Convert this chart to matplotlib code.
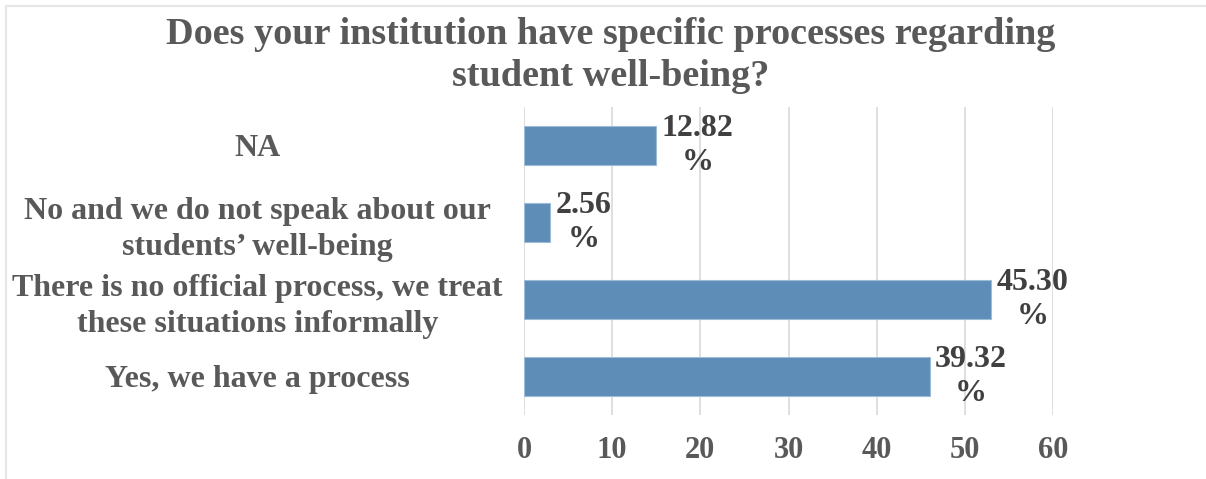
import matplotlib.pyplot as plt
from matplotlib.lines import Line2D

plt.rcParams['font.family'] = ['Liberation Serif', 'DejaVu Serif']
plt.rcParams['font.weight'] = 'bold'

categories = ["Yes, we have a process",
              "There is no official process, we treat\nthese situations informally",
              "No and we do not speak about our\nstudents\u2019 well-being",
              "NA"]
counts = [46, 53, 3, 15]
percents = ["39.32", "45.30", "2.56", "12.82"]
xticks = [0, 10, 20, 30, 40, 50, 60]

fig = plt.figure(figsize=(12.06, 4.79), dpi=100)
ax = fig.add_axes([524 / 1206, 1 - 415 / 479, 529 / 1206, 308 / 479])

ypos = range(len(categories))
ax.barh(ypos, counts, height=0.5, color="#5E8DB8", edgecolor="#9DBCD8", linewidth=0.8, zorder=3)
for y, c, p in zip(ypos, counts, percents):
    ax.text(c + 0.6, y, p + "\n%", ha="left", va="center", multialignment="center",
            fontsize=23, color="#404040", linespacing=1.22)

ax.set_xlim(0, 60)
ax.set_ylim(-0.5, 3.5)
ax.set_xticks(xticks)
ax.set_xticklabels([str(t) for t in xticks], fontsize=22, color="#595959")
ax.set_yticks(list(ypos))
ax.set_yticklabels(categories, fontsize=23, color="#595959", ha="center",
                   multialignment="center", linespacing=1.3)
ax.tick_params(axis="both", length=0)
ax.tick_params(axis="x", pad=15)
ax.tick_params(axis="y", pad=192)
ax.grid(axis="x", color="#D9D9D9", linewidth=1.2, zorder=0)
for s in ax.spines.values():
    s.set_visible(False)

fig.text(0.506, 0.884, "Does your institution have specific processes regarding\nstudent well-being?",
         ha="center", va="center", fontsize=27.5, color="#595959", linespacing=1.27)

fig.add_artist(Line2D([6 / 1206, 1], [1 - 6 / 479, 1 - 6 / 479], color="#E6E6E6", linewidth=1.5))
fig.add_artist(Line2D([6 / 1206, 6 / 1206], [0, 1 - 6 / 479], color="#E6E6E6", linewidth=1.5))

fig.savefig("out.png", dpi=100)
